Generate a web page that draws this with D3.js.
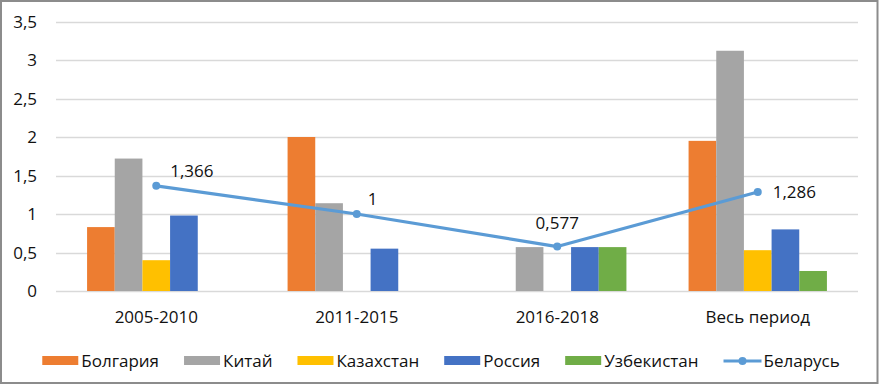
<!DOCTYPE html>
<html>
<head>
<meta charset="utf-8">
<script src="https://cdn.jsdelivr.net/npm/d3@7"></script>
<style>
  body { margin: 0; background: #fff; }
  svg { display: block; font-family: "Open Sans", sans-serif; }
</style>
</head>
<body>
<svg id="chart"></svg>
<script>
const W = 879, H = 387;
margin = {top: 21.5, right: 21, bottom: 96, left: 56};

const periods = ["2005-2010", "2011-2015", "2016-2018", "Весь период"];
const countries = ["Болгария", "Китай", "Казахстан", "Россия", "Узбекистан"];
const colors = ["#ED7D31", "#A5A5A5", "#FFC000", "#4472C4", "#70AD47"];
// null = no bar in that period
const bulgaria   = [0.83, 2.00, null, 1.95];
const china      = [1.72, 1.14, 0.57, 3.12];
const kazakhstan = [0.40, null, null, 0.53];
const russia     = [0.98, 0.55, 0.57, 0.80];
const uzbekistan = [null, null, 0.57, 0.26];
const belarus    = [1.366, 1, 0.577, 1.286];
const belarusLabels = ["1,366", "1", "0,577", "1,286"];
const yTicks = [0, 0.5, 1, 1.5, 2, 2.5, 3, 3.5];
// label offsets from each point: [dx, dy, anchor]
const labelOffsets = [[14, -15, "start"], [11, -15, "start"], [0, -24, "middle"], [15, 0, "start"]];

const seriesValues = [bulgaria, china, kazakhstan, russia, uzbekistan];

const svg = d3.select("#chart").attr("width", W).attr("height", H);

// outer frame
svg.append("rect")
    .attr("x", 1).attr("y", 1)
    .attr("width", W - 2.5).attr("height", H - 5)
    .attr("fill", "#fff")
    .attr("stroke", "#8c8c8c")
    .attr("stroke-width", 2);

const x0 = d3.scaleBand()
    .domain(periods)
    .range([margin.left, W - margin.right])
    .paddingInner(0.31)
    .paddingOuter(0.155);

const x1 = d3.scaleBand()
    .domain(countries)
    .range([0, x0.bandwidth()]);

const y = d3.scaleLinear()
    .domain([0, 3.5])
    .range([H - margin.bottom, margin.top]);

// gridlines
svg.append("g")
    .selectAll("line")
    .data(yTicks)
    .join("line")
    .attr("x1", margin.left)
    .attr("x2", W - margin.right)
    .attr("y1", d => Math.round(y(d)) + 0.5)
    .attr("y2", d => Math.round(y(d)) + 0.5)
    .attr("stroke", "#d9d9d9")
    .attr("stroke-width", 1.3);

// y labels
svg.append("g")
    .selectAll("text")
    .data(yTicks)
    .join("text")
    .attr("x", 37)
    .attr("y", d => y(d))
    .attr("dy", "0.36em")
    .attr("text-anchor", "end")
    .attr("font-size", 17)
    .attr("fill", "#111")
    .text(d => d3.format(".1~f")(d).replace(".", ","));

// bars
const barData = [];
seriesValues.forEach((vals, si) => {
    vals.forEach((v, pi) => {
        if (v !== null) barData.push({country: countries[si], period: periods[pi], value: v, color: colors[si]});
    });
});

svg.append("g")
    .selectAll("rect")
    .data(barData)
    .join("rect")
    .attr("x", d => x0(d.period) + x1(d.country))
    .attr("y", d => y(d.value))
    .attr("width", x1.bandwidth())
    .attr("height", d => y(0) - y(d.value))
    .attr("fill", d => d.color);

// x labels
svg.append("g")
    .selectAll("text")
    .data(periods)
    .join("text")
    .attr("x", d => x0(d) + x0.bandwidth() / 2)
    .attr("y", 317)
    .attr("dy", "0.36em")
    .attr("text-anchor", "middle")
    .attr("font-size", 17)
    .attr("fill", "#111")
    .text(d => d);

// Belarus line
const cx = (d, i) => x0(periods[i]) + x0.bandwidth() / 2;
const line = d3.line()
    .x((d, i) => cx(d, i))
    .y(d => y(d));

svg.append("path")
    .datum(belarus)
    .attr("d", line)
    .attr("fill", "none")
    .attr("stroke", "#5B9BD5")
    .attr("stroke-width", 3.2)
    .attr("stroke-linejoin", "round");

svg.append("g")
    .selectAll("circle")
    .data(belarus)
    .join("circle")
    .attr("cx", cx)
    .attr("cy", d => y(d))
    .attr("r", 4)
    .attr("fill", "#5B9BD5");

svg.append("g")
    .selectAll("text")
    .data(belarus)
    .join("text")
    .attr("x", (d, i) => cx(d, i) + labelOffsets[i][0])
    .attr("y", (d, i) => y(d) + labelOffsets[i][1])
    .attr("dy", "0.36em")
    .attr("text-anchor", (d, i) => labelOffsets[i][2])
    .attr("font-size", 17)
    .attr("fill", "#111")
    .text((d, i) => belarusLabels[i]);

// legend
const legendItems = countries.map((c, i) => ({name: c, color: colors[i], type: "bar"}))
    .concat([{name: "Беларусь", color: "#5B9BD5", type: "line"}]);

const legend = svg.append("g");
const legendY = 361;
let lx = 0;
legendItems.forEach(item => {
    const g = legend.append("g").attr("transform", "translate(" + lx + ",0)");
    if (item.type === "bar") {
        g.append("rect")
            .attr("x", 0).attr("y", legendY - 5)
            .attr("width", 36).attr("height", 9)
            .attr("fill", item.color);
    } else {
        g.append("line")
            .attr("x1", 0).attr("x2", 38)
            .attr("y1", legendY).attr("y2", legendY)
            .attr("stroke", item.color).attr("stroke-width", 3.2);
        g.append("circle")
            .attr("cx", 19).attr("cy", legendY).attr("r", 4)
            .attr("fill", item.color);
    }
    const t = g.append("text")
        .attr("x", item.type === "bar" ? 39 : 40)
        .attr("y", legendY)
        .attr("dy", "0.36em")
        .attr("font-size", 17)
        .attr("fill", "#111")
        .text(item.name);
    lx += (item.type === "bar" ? 39 : 40) + t.node().getComputedTextLength() + 25;
});
const legendW = lx - 25;
legend.attr("transform", "translate(" + (441 - legendW / 2) + ",0)");
</script>
</body>
</html>
